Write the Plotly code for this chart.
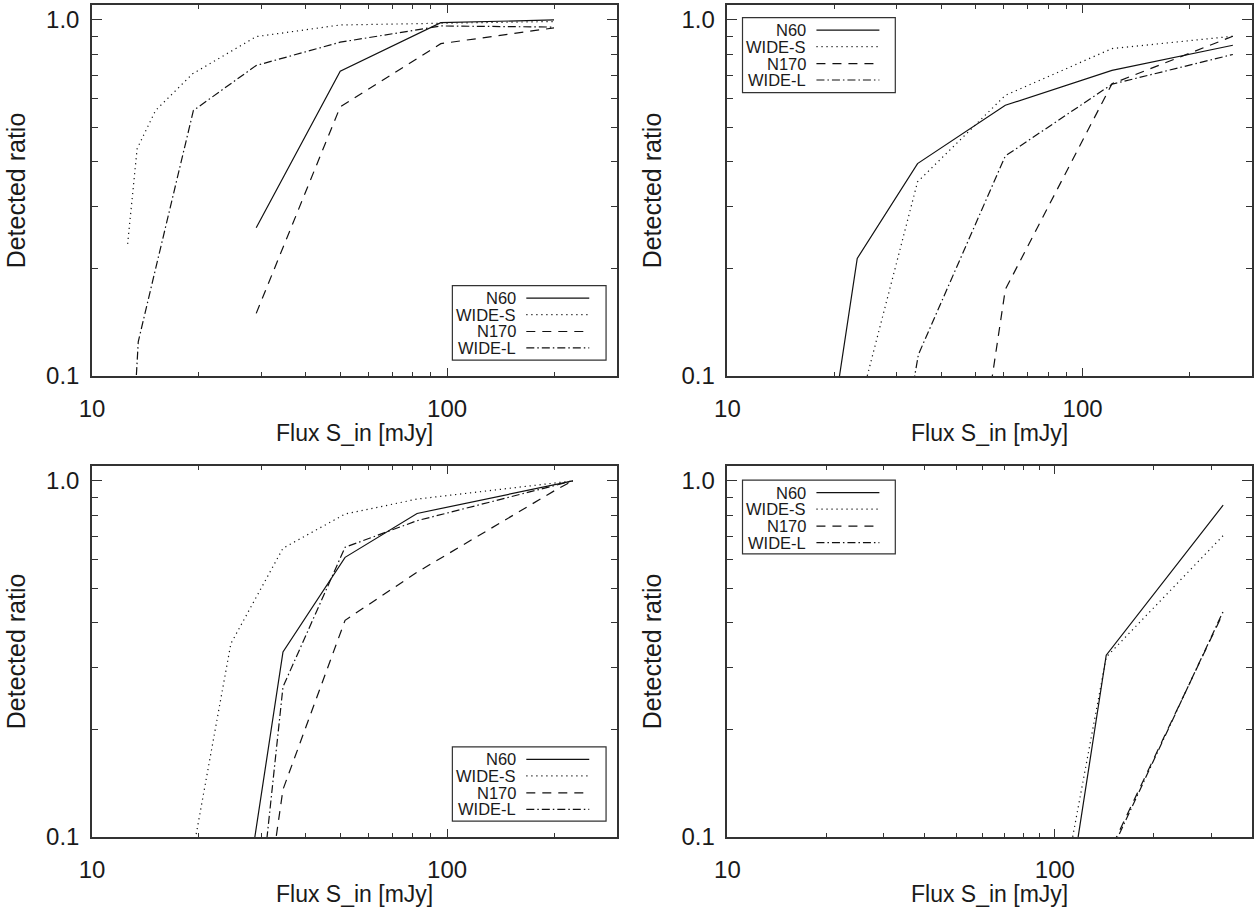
import numpy as np
import plotly.graph_objects as go

# ---------------- data ----------------
series_names = ["N60", "WIDE-S", "N170", "WIDE-L"]

# panel a (top-left)
flux_a_n60 = [29, 50, 96, 200]
ratio_a_n60 = [0.261, 0.718, 0.983, 1.0]
flux_a_wides = [12.6, 13.4, 15.1, 19.2, 29, 50, 96, 200]
ratio_a_wides = [0.235, 0.435, 0.557, 0.706, 0.898, 0.968, 0.979, 0.99]
flux_a_n170 = [29, 50, 96, 200]
ratio_a_n170 = [0.150, 0.570, 0.858, 0.95]
flux_a_widel = [12.6, 13.5, 15.1, 19.3, 29, 50, 96, 200]
ratio_a_widel = [0.037, 0.125, 0.2, 0.557, 0.745, 0.866, 0.962, 0.955]

# panel b (top-right)
flux_b_n60 = [18, 23.2, 34.3, 60.6, 121, 265]
ratio_b_n60 = [0.04, 0.214, 0.395, 0.576, 0.722, 0.849]
flux_b_wides = [23.2, 34.3, 60.6, 121, 265]
ratio_b_wides = [0.078, 0.351, 0.614, 0.831, 0.90]
flux_b_n170 = [34.3, 60.6, 121, 265]
ratio_b_n170 = [0.004, 0.175, 0.662, 0.90]
flux_b_widel = [23.2, 34.5, 60.6, 121, 265]
ratio_b_widel = [0.012, 0.115, 0.415, 0.660, 0.80]

# panel c (bottom-left)
flux_c_n60 = [24.6, 34.5, 51.6, 82.3, 226]
ratio_c_n60 = [0.036, 0.331, 0.610, 0.810, 1.0]
flux_c_wides = [17, 24.6, 34.5, 51.6, 82.3, 226]
ratio_c_wides = [0.046, 0.349, 0.647, 0.807, 0.889, 1.0]
flux_c_n170 = [24.6, 34.5, 51.6, 82.3, 204, 226]
ratio_c_n170 = [0.013, 0.136, 0.406, 0.554, 0.948, 1.0]
flux_c_widel = [24.6, 34.5, 51.6, 82.3, 226]
ratio_c_widel = [0.011, 0.264, 0.651, 0.773, 1.0]

# panel d (bottom-right)
flux_d_n60 = [80, 143.5, 326.6]
ratio_d_n60 = [0.01, 0.324, 0.855]
flux_d_wides = [80, 143.5, 326.6]
ratio_d_wides = [0.018, 0.32, 0.702]
flux_d_n170 = [143.5, 326.6]
ratio_d_n170 = [0.087, 0.426]
flux_d_widel = [143.5, 326.6]
ratio_d_widel = [0.085, 0.43]

x_tick_vals = [10, 100]
x_tick_text = ["10", "100"]
y_tick_vals = [0.1, 1.0]
y_tick_text = ["0.1", "1.0"]
x_minor_vals = [20, 30, 40, 50, 60, 70, 80, 90, 200, 300, 400]
y_minor_vals = [0.2, 0.3, 0.4, 0.5, 0.6, 0.7, 0.8, 0.9]
x_max_panels = [300, 300, 300, 400]

x_title = "Flux S_in [mJy]"
y_title = "Detected ratio"

# ---------------- styling ----------------
FONT = "Liberation Sans, Arial, Helvetica, sans-serif"
TXT = "#1a1a1a"
dashes = ["solid", "1.2px,3.8px", "9px,7px", "8px,3px,1.5px,3px"]
LINE_COLOR = "#111111"
FRAME = "#333333"

panels = [
    [(flux_a_n60, ratio_a_n60), (flux_a_wides, ratio_a_wides), (flux_a_n170, ratio_a_n170), (flux_a_widel, ratio_a_widel)],
    [(flux_b_n60, ratio_b_n60), (flux_b_wides, ratio_b_wides), (flux_b_n170, ratio_b_n170), (flux_b_widel, ratio_b_widel)],
    [(flux_c_n60, ratio_c_n60), (flux_c_wides, ratio_c_wides), (flux_c_n170, ratio_c_n170), (flux_c_widel, ratio_c_widel)],
    [(flux_d_n60, ratio_d_n60), (flux_d_wides, ratio_d_wides), (flux_d_n170, ratio_d_n170), (flux_d_widel, ratio_d_widel)],
]

x_domains = [[0.0, 0.4522], [0.5478, 1.0], [0.0, 0.4522], [0.5478, 1.0]]
y_domains = [[0.554, 1.0], [0.554, 1.0], [0.0, 0.446], [0.0, 0.446]]
x_title_shift = [-57, -57, -57, -57]
# legend box in axis-domain coords: x0, x1, ytop, ybottom
legend_boxes = [
    (0.687, 0.980, 0.2438, 0.043),
    (0.0287, 0.320, 0.9659, 0.764),
    (0.687, 0.980, 0.2427, 0.043),
    (0.0287, 0.320, 0.9615, 0.763),
]
PLOT_W = 525.0
PLOT_H = 372.0

fig = go.Figure()

for i, panel in enumerate(panels):
    ax = "" if i == 0 else str(i + 1)
    for j, (xs, ys) in enumerate(panel):
        fig.add_trace(go.Scatter(
            x=xs, y=ys, mode="lines", name=series_names[j],
            line=dict(color=LINE_COLOR, width=1.2, dash=dashes[j]),
            xaxis="x" + ax, yaxis="y" + ax, showlegend=False,
        ))

    common = dict(
        type="log", showline=True, mirror="allticks", linecolor=FRAME, linewidth=1.5,
        ticks="inside", tickcolor=FRAME, tickwidth=1.2,
        showgrid=False, zeroline=False,
        tickfont=dict(family=FONT, size=24, color=TXT),
    )
    fig.layout["xaxis" + ax] = dict(
        common, domain=x_domains[i], anchor="y" + ax,
        range=[1, np.log10(x_max_panels[i])],
        tickmode="array", tickvals=x_tick_vals, ticktext=x_tick_text, ticklen=8,
        ticklabelstandoff=10,
        minor=dict(ticks="inside", ticklen=4, tickwidth=1, tickcolor=FRAME,
                   tickmode="array", tickvals=x_minor_vals, showgrid=False),
    )
    fig.layout["yaxis" + ax] = dict(
        common, domain=y_domains[i], anchor="x" + ax,
        range=[-1, 0.042],
        tickmode="array", tickvals=y_tick_vals, ticktext=y_tick_text, ticklen=10,
        ticklabelstandoff=6,
        minor=dict(ticks="inside", ticklen=6, tickwidth=1, tickcolor=FRAME,
                   tickmode="array", tickvals=y_minor_vals, showgrid=False),
        title=dict(text=y_title, font=dict(family=FONT, size=25, color=TXT), standoff=13),
    )

    xr = "x" + ax + " domain"
    yr = "y" + ax + " domain"
    # x-axis title
    fig.add_annotation(xref=xr, yref=yr, x=0.5, y=0, text=x_title, showarrow=False,
                       xanchor="center", yanchor="middle", yshift=x_title_shift[i],
                       font=dict(family=FONT, size=23, color=TXT))

    # legend (text right-aligned, line sample to its right), drawn in axis-domain coords
    x0, x1, yt, yb = legend_boxes[i]
    fig.add_shape(type="rect", xref=xr, yref=yr, x0=x0, x1=x1, y0=yb, y1=yt,
                  line=dict(color=FRAME, width=1.2), fillcolor="rgba(0,0,0,0)")
    row_offsets = [12.5, 29.0, 46.0, 62.5]
    for j, name in enumerate(series_names):
        yy = yt - row_offsets[j] / PLOT_H
        fig.add_annotation(xref=xr, yref=yr, x=x0 + 65 / PLOT_W, y=yy, text=name,
                           showarrow=False, xanchor="right", yanchor="middle",
                           borderpad=0,
                           font=dict(family=FONT, size=16.5, color=TXT))
        fig.add_shape(type="line", xref=xr, yref=yr,
                      x0=x0 + 74 / PLOT_W, x1=x0 + 137 / PLOT_W, y0=yy, y1=yy,
                      line=dict(color=LINE_COLOR, width=1.2, dash=dashes[j]))

fig.update_layout(
    width=1257, height=909,
    margin=dict(l=92, r=4, t=3, b=72),
    paper_bgcolor="white", plot_bgcolor="white",
    font=dict(family=FONT, color=TXT),
    showlegend=False,
)

fig.write_html("out.html", config={"displayModeBar": False},
               post_script="document.body.style.margin='0px';")
